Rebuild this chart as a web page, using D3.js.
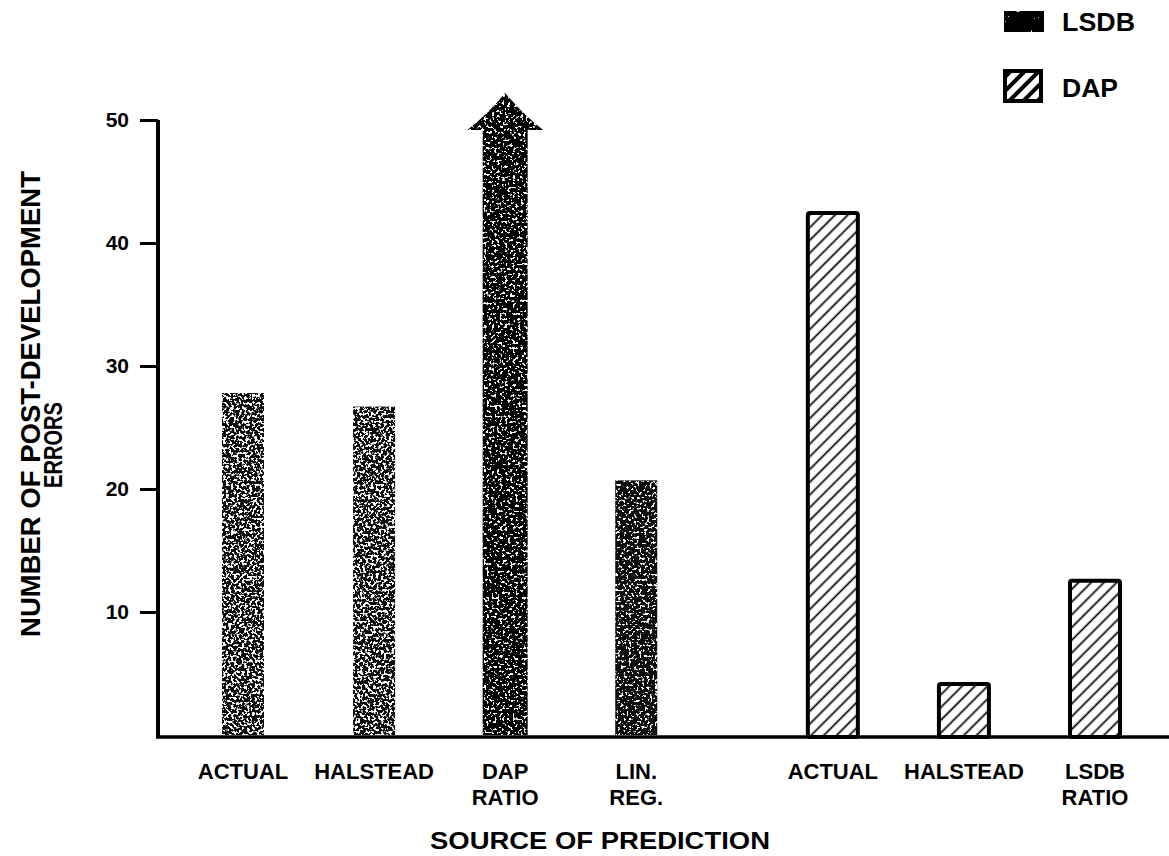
<!DOCTYPE html>
<html>
<head>
<meta charset="utf-8">
<script src="https://cdn.jsdelivr.net/npm/d3@7"></script>
<style>
  html, body { margin: 0; padding: 0; background: #fff; }
  svg { display: block; }
  text { font-family: "Liberation Sans", Arial, Helvetica, sans-serif; font-weight: bold; fill: #000; }
</style>
</head>
<body>
<svg id="chart" width="1169" height="856"></svg>
<script>
// ---- data ----
const seriesNames = ["LSDB", "DAP"];
const lsdbCategories = [["ACTUAL"], ["HALSTEAD"], ["DAP", "RATIO"], ["LIN.", "REG."]];
const lsdbValues = [27.8, 26.7, 52.2, 20.7];   // DAP RATIO runs off the scale (arrow)
const lsdbOffScale = [false, false, true, false];
const dapCategories = [["ACTUAL"], ["HALSTEAD"], ["LSDB", "RATIO"]];
const dapValues = [42.6, 4.3, 12.7];
const yTickValues = [10, 20, 30, 40, 50];
const yTitleLines = ["NUMBER OF POST-DEVELOPMENT", "ERRORS"];
const xTitle = "SOURCE OF PREDICTION";

// ---- build rows ----
const rows = [];
lsdbCategories.forEach((c, i) => rows.push({ series: "LSDB", label: c, value: lsdbValues[i], off: lsdbOffScale[i], slot: i }));
dapCategories.forEach((c, i) => rows.push({ series: "DAP", label: c, value: dapValues[i], off: false, slot: lsdbCategories.length + 0.5 + i }));

const svg = d3.select("#chart");
const defs = svg.append("defs");

// speckle filter for the stippled (LSDB) bars
function speckleFilter(id, freq, seed, threshold) {
  const f = defs.append("filter").attr("id", id)
    .attr("x", 0).attr("y", 0).attr("width", "100%").attr("height", "100%");
  f.append("feTurbulence").attr("type", "fractalNoise").attr("baseFrequency", freq)
    .attr("numOctaves", 2).attr("seed", seed).attr("result", "noise");
  f.append("feColorMatrix").attr("in", "noise").attr("type", "matrix")
    .attr("values", `0 0 0 0 1  0 0 0 0 1  0 0 0 0 1  16 0 0 0 ${-16 * threshold}`).attr("result", "spots");
  f.append("feComposite").attr("in", "spots").attr("in2", "SourceGraphic").attr("operator", "in").attr("result", "clipped");
  const fm = f.append("feMerge");
  fm.append("feMergeNode").attr("in", "SourceGraphic");
  fm.append("feMergeNode").attr("in", "clipped");
}
speckleFilter("speckleLight", 0.38, 7, 0.53);
speckleFilter("speckleDark", 0.38, 11, 0.6);
speckleFilter("speckleLegend", 0.3, 3, 0.75);

// hatch pattern for the DAP bars
function hatchPattern(id, size, sw) {
  const p = defs.append("pattern").attr("id", id).attr("patternUnits", "userSpaceOnUse")
    .attr("width", size).attr("height", size).attr("patternTransform", "rotate(45)");
  p.append("rect").attr("width", size).attr("height", size).attr("fill", "#fff");
  p.append("line").attr("x1", size / 2).attr("y1", 0).attr("x2", size / 2).attr("y2", size)
    .attr("stroke", "#000").attr("stroke-width", sw);
}
hatchPattern("hatch", 9, 1.7);
hatchPattern("hatchLegend", 10, 4);

// ---- scales ----
const y = d3.scaleLinear().domain([0, 50]).range([735, 120]);
const x = d3.scaleLinear().domain([0, 6.5]).range([243, 1095]);
const barW = { LSDB: 42, DAP: 54 };

// ---- y axis ----
const yAxis = d3.axisLeft(y).tickValues(yTickValues).tickSize(18).tickSizeOuter(0).tickPadding(11);
const gy = svg.append("g").attr("transform", "translate(158,0)").call(yAxis);
gy.select(".domain").attr("stroke", "#000").attr("stroke-width", 4)
  .attr("d", `M0,${y(0) + 3}V${y(50)}`);
gy.selectAll(".tick line").attr("stroke", "#000").attr("stroke-width", 3);
gy.selectAll(".tick text").attr("font-size", 21).attr("font-family", "Liberation Sans, Arial, sans-serif")
  .attr("font-weight", "bold").attr("fill", "#000");

// baseline
svg.append("line").attr("x1", 156).attr("x2", 1169).attr("y1", y(0) + 2).attr("y2", y(0) + 2)
  .attr("stroke", "#000").attr("stroke-width", 3.5);

// ---- bars ----
const lsdbRows = rows.filter(d => d.series === "LSDB");
const dapRows = rows.filter(d => d.series === "DAP");

// LSDB stippled bars (normal)
svg.append("g").selectAll("rect").data(lsdbRows.filter(d => !d.off)).join("rect")
  .attr("x", d => x(d.slot) - barW.LSDB / 2)
  .attr("y", d => y(d.value))
  .attr("width", barW.LSDB)
  .attr("height", d => y(0) - y(d.value))
  .attr("fill", "#0a0a0a")
  .attr("filter", (d, i) => i < 2 ? "url(#speckleLight)" : "url(#speckleDark)");

// LSDB off-scale bar drawn as an arrow
svg.append("g").selectAll("path").data(lsdbRows.filter(d => d.off)).join("path")
  .attr("d", d => {
    const cx = x(d.slot), w = barW.LSDB + 3, top = y(d.value), headH = 37, headW = 76;
    const base = y(0), hb = top + headH;
    return `M${cx - w / 2},${base} L${cx - w / 2},${hb} L${cx - headW / 2},${hb} ` +
      `Q${cx - 18},${top + 22} ${cx},${top} Q${cx + 18},${top + 22} ${cx + headW / 2},${hb} ` +
      `L${cx + w / 2},${hb} L${cx + w / 2},${base} Z`;
  })
  .attr("fill", "#050505")
  .attr("filter", "url(#speckleDark)");

// DAP hatched bars
svg.append("g").selectAll("rect").data(dapRows).join("rect")
  .attr("x", d => x(d.slot) - barW.DAP / 2 + 2)
  .attr("y", d => y(d.value) + 2)
  .attr("width", barW.DAP - 4)
  .attr("height", d => y(0) - y(d.value))
  .attr("fill", "url(#hatch)")
  .attr("stroke", "#000").attr("stroke-width", 4)
  .attr("rx", 2);

// ---- category labels ----
const lab = svg.append("g").selectAll("text").data(rows).join("text")
  .attr("x", d => x(d.slot))
  .attr("y", 779)
  .attr("text-anchor", "middle")
  .attr("font-size", 22);
lab.selectAll("tspan").data(d => d.label.map(t => ({ t, x: x(d.slot) }))).join("tspan")
  .attr("x", d => d.x).attr("dy", (d, i) => i === 0 ? 0 : 26).text(d => d.t);

// ---- axis titles ----
svg.append("text").attr("x", 600).attr("y", 849).attr("text-anchor", "middle")
  .attr("font-size", 24).attr("textLength", 340).attr("lengthAdjust", "spacingAndGlyphs").text(xTitle);

svg.append("text").attr("transform", "translate(40,404) rotate(-90)").attr("text-anchor", "middle")
  .attr("font-size", 27).attr("textLength", 466).attr("lengthAdjust", "spacingAndGlyphs").text(yTitleLines[0]);
svg.append("text").attr("transform", "translate(62,445) rotate(-90)").attr("text-anchor", "middle")
  .attr("font-size", 26).attr("textLength", 86).attr("lengthAdjust", "spacingAndGlyphs").text(yTitleLines[1]);

// ---- legend ----
const legend = svg.append("g");
const legendItems = [
  { name: seriesNames[0], y: 11, h: 21 },
  { name: seriesNames[1], y: 71, h: 30 }
];
legend.selectAll("rect").data(legendItems).join("rect")
  .attr("x", d => d.name === "DAP" ? 1005 : 1004)
  .attr("y", d => d.y)
  .attr("width", d => d.name === "DAP" ? 36 : 40)
  .attr("height", d => d.h)
  .attr("fill", d => d.name === "DAP" ? "url(#hatchLegend)" : "#000")
  .attr("stroke", d => d.name === "DAP" ? "#000" : "none")
  .attr("stroke-width", 4)
  .attr("filter", d => d.name === "DAP" ? null : "url(#speckleLegend)");
legend.selectAll("text").data(legendItems).join("text")
  .attr("x", 1062)
  .attr("y", d => d.name === "DAP" ? 97 : 31)
  .attr("font-size", 25)
  .attr("textLength", d => d.name === "DAP" ? 56 : 73)
  .attr("lengthAdjust", "spacingAndGlyphs")
  .text(d => d.name);
</script>
</body>
</html>
